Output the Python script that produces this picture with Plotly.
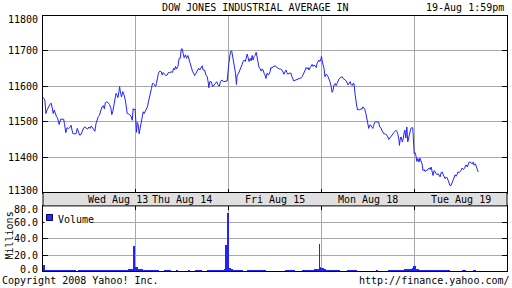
import plotly.graph_objects as go

# ---------------- data ----------------
day_labels = ["Wed Aug 13", "Thu Aug 14", "Fri Aug 15", "Mon Aug 18", "Tue Aug 19"]
session_minutes = 390  # 9:30 - 16:00

# price: minutes after the open of each session, index value
wed_min = [0,4,8,12,17,22,29,35,39,43,47,53,57,61,65,68,74,79,87,90,96,101,107,112,118,122,126,133,139,144,
           149,154,160,165,171,176,182,187,193,198,203,207,212,218,223,228,232,237,243,248,254,258,262,268,273,
           279,285,289,293,297,303,307,311,315,319,322,326,330,335,340,346,350,354,360,365,371,375,379,383,387]
wed_px = [11568,11566,11561,11523,11533,11542,11549,11552,11537,11523,11533,11520,11514,11511,11501,11492,11507,
          11507,11507,11495,11469,11483,11481,11483,11490,11476,11466,11466,11466,11481,11471,11462,11464,11476,
          11483,11485,11483,11479,11485,11481,11488,11483,11479,11473,11495,11509,11514,11518,11533,11542,11545,
          11536,11554,11556,11554,11549,11539,11520,11528,11547,11566,11580,11575,11568,11585,11599,11580,11570,
          11585,11577,11561,11547,11523,11522,11520,11514,11504,11537,11533,11536]

thu_min = [0,3,6,10,14,18,22,27,31,35,39,45,49,53,58,62,66,70,74,79,83,87,91,95,101,107,111,115,121,126,132,137,
           143,149,154,159,163,167,171,177,182,187,191,195,199,203,209,213,219,224,230,234,239,243,247,253,258,264,
           269,275,279,283,289,295,300,304,307,311,317,323,328,334,340,345,351,356,362,368,373,379,384]
thu_px = [11495,11470,11498,11492,11466,11481,11495,11518,11528,11523,11528,11537,11542,11556,11575,11589,11594,
          11608,11608,11604,11599,11608,11622,11637,11643,11641,11632,11639,11634,11630,11632,11639,11639,11641,
          11639,11651,11646,11656,11649,11656,11679,11679,11705,11706,11693,11681,11689,11679,11687,11674,11660,
          11646,11641,11637,11630,11637,11646,11651,11646,11653,11658,11646,11646,11632,11627,11613,11596,11613,
          11613,11599,11604,11608,11613,11605,11600,11613,11618,11613,11613,11615,11615]

fri_min = [1,4,8,13,17,21,25,29,33,36,40,45,49,53,57,61,65,70,74,78,82,86,91,95,99,103,107,111,116,120,124,128,
           132,137,141,145,149,153,157,162,166,170,174,178,182,187,191,195,199,203,208,213,219,224,228,233,237,241,
           245,249,254,258,262,266,270,274,279,283,288,294,299,305,309,313,318,322,326,330,334,338,343,347,351,355,
           359,364,368,372,376,380,383,387]
fri_px = [11665,11684,11698,11700,11684,11679,11660,11637,11605,11632,11634,11641,11646,11656,11662,11670,11674,
          11670,11684,11691,11681,11670,11679,11672,11687,11674,11684,11687,11696,11679,11662,11653,11651,11643,
          11649,11646,11637,11632,11622,11637,11632,11634,11641,11653,11651,11656,11656,11658,11656,11653,11651,
          11649,11649,11646,11639,11634,11641,11646,11639,11634,11637,11637,11637,11627,11621,11615,11617,11618,
          11618,11621,11622,11624,11627,11632,11639,11646,11653,11649,11653,11646,11653,11660,11662,11656,11660,
          11658,11653,11665,11670,11674,11670,11674]

mon_min = [0,3,7,11,15,20,24,28,32,36,41,45,49,53,58,62,66,70,74,79,83,87,91,95,100,104,108,112,116,121,125,129,
           133,137,142,145,149,153,157,161,166,170,174,178,182,187,191,195,199,203,208,212,216,220,224,229,233,237,
           241,245,250,254,258,262,266,271,275,279,283,288,292,296,300,304,309,313,317,321,326,328,331,335,340,344,
           348,351,355,359,363,368,372,376,380,384]
mon_px = [11684,11670,11660,11651,11627,11634,11632,11627,11622,11613,11599,11583,11589,11604,11608,11602,11608,
          11615,11621,11624,11626,11627,11622,11621,11618,11615,11608,11604,11608,11613,11605,11602,11608,11608,
          11575,11552,11542,11533,11535,11533,11537,11535,11542,11539,11535,11523,11509,11495,11481,11490,11490,
          11485,11481,11490,11498,11500,11500,11500,11498,11485,11483,11476,11471,11466,11466,11464,11462,11457,
          11450,11454,11457,11460,11464,11469,11473,11476,11473,11466,11448,11433,11450,11457,11443,11452,11471,
          11476,11454,11485,11443,11457,11466,11481,11483,11483]

tue_min = [0,3,7,11,16,20,24,28,33,37,41,45,50,54,58,62,67,71,75,79,84,88,92,96,101,105,109,113,118,122,126,130,
           135,139,143,146,150,155,159,163,167,172,176,180,184,189,193,197,201,206,210,214,218,223,227,231,235,240,
           244,248,252,257,261,265,269]
tue_px = [11410,11413,11405,11388,11396,11386,11397,11388,11381,11362,11365,11360,11362,11362,11365,11369,11365,
          11372,11358,11348,11362,11358,11356,11350,11353,11346,11344,11356,11358,11350,11344,11339,11344,11341,
          11334,11325,11320,11320,11325,11334,11341,11350,11346,11350,11358,11356,11360,11362,11369,11365,11367,
          11375,11378,11372,11381,11386,11386,11384,11381,11386,11377,11381,11372,11360,11358]

# volume (millions) in 10-minute buckets per session
wed_vol = [8.5,2.2,1.8,1.6,1.5,1.4,1.5,1.3,1.2,1.2,1.1,1.2,1.0,0.9,0.0,1.0,1.1,1.0,1.0,1.1,1.0,1.2,1.1,1.3,1.2,
           1.1,1.3,1.4,1.5,1.3,1.6,1.8,1.5,1.9,2.0,2.4,2.8,3.4,5.0]
thu_vol = [6.0,3.2,2.5,2.0,1.8,1.6,1.5,1.4,1.2,1.0,0.0,0.0,1.0,1.1,1.0,0.0,0.0,1.0,0.0,0.0,0.0,0.0,1.0,0.0,0.0,
           1.0,1.1,1.2,0.0,0.0,1.0,1.2,1.4,1.5,1.6,1.8,2.2,3.0,5.5]
fri_vol = [4.0,2.6,2.0,1.6,1.5,1.3,0.0,0.0,1.2,1.2,1.3,1.1,1.0,1.2,1.1,1.0,0.0,0.0,0.0,0.0,0.0,0.0,0.0,0.0,1.0,
           1.1,1.2,1.0,0.0,0.0,0.0,1.1,1.3,1.5,1.7,2.0,2.6,3.2,5.2]
mon_vol = [4.2,2.5,2.0,1.8,1.6,1.5,1.4,1.3,0.0,0.0,0.0,1.2,1.3,1.1,1.0,0.0,0.0,0.0,0.0,0.0,0.0,0.0,0.0,1.0,0.0,
           0.0,0.0,0.0,1.0,1.0,1.2,1.3,1.4,1.6,2.0,2.5,3.0,3.5,4.0]
tue_vol = [7.0,2.5,2.2,2.0,1.8,1.7,1.6,1.5,1.5,1.4,1.3,1.2,1.2,1.1,1.2,0.0,0.0,0.0,0.0,0.0,1.0,1.0,0.0,0.0,0.0,
           1.0,0.0]
# closing-print spikes: trading minutes since Wed open, millions
spike_t = [384, 771, 779, 1162, 1558]
spike_v = [31.0, 32.0, 71.0, 33.5, 7.0]

price_ticks = [11300, 11400, 11500, 11600, 11700, 11800]
vol_ticks = [0, 20, 40, 60, 80]
vol_tick_text = ["0.0", "20.0", "40.0", "60.0", "80.0"]

# ---------------- build ----------------
W, H = 512, 288
def px(x): return x / W
def py(y): return 1 - y / H

days_t = [wed_min, thu_min, fri_min, mon_min, tue_min]
days_p = [wed_px, thu_px, fri_px, mon_px, tue_px]
t_all, p_all = [], []
for i, (tt, pp) in enumerate(zip(days_t, days_p)):
    t_all += [session_minutes * i + m for m in tt]
    p_all += pp

vols = [wed_vol, thu_vol, fri_vol, mon_vol, tue_vol]
vt, vv = [], []
for i, v in enumerate(vols):
    for k, val in enumerate(v):
        vt.append(session_minutes * i + 10 * k + 5)
        vv.append(val)

BLUE = "#2222ff"
GRID = "#a8a8a8"
FONT = "DejaVu Sans Mono"

fig = go.Figure()
fig.add_trace(go.Scatter(x=t_all, y=p_all, mode="lines", line=dict(color=BLUE, width=1),
                         xaxis="x", yaxis="y", showlegend=False))
fig.add_trace(go.Bar(x=vt, y=vv, width=8, marker=dict(color=BLUE, line=dict(width=0)),
                     xaxis="x2", yaxis="y2", showlegend=False))
fig.add_trace(go.Bar(x=spike_t, y=spike_v, width=4, marker=dict(color=BLUE, line=dict(width=0)),
                     xaxis="x2", yaxis="y2", showlegend=False))

xdom = [px(43), px(507)]
boundaries = [session_minutes * i for i in range(1, 5)]
common_x = dict(domain=xdom, range=[0, session_minutes * 5], tickvals=boundaries, showgrid=True,
                gridcolor=GRID, gridwidth=1, ticks="inside", ticklen=4, tickcolor="black",
                showticklabels=False, showline=True, linecolor="black", linewidth=1, zeroline=False)
fig.update_layout(
    width=W, height=H, margin=dict(l=0, r=0, t=0, b=0),
    paper_bgcolor="white", plot_bgcolor="white", barmode="overlay", bargap=0,
    font=dict(family=FONT, size=10, color="black"),
    xaxis=dict(**common_x, anchor="y", side="bottom", mirror=True),
    yaxis=dict(domain=[py(192.5), py(15.5)], range=[price_ticks[0], price_ticks[-1]], tickvals=price_ticks,
               showgrid=True, gridcolor=GRID, gridwidth=1, ticks="inside", ticklen=5, tickcolor="black",
               showticklabels=False, showline=True, linecolor="black", linewidth=1, mirror="ticks",
               zeroline=False, anchor="x"),
    xaxis2=dict(**common_x, anchor="y2", side="top", mirror=True, matches="x"),
    yaxis2=dict(domain=[py(271.4), py(205.9)], range=[vol_ticks[0], vol_ticks[-1]], tickvals=vol_ticks,
                showgrid=True, gridcolor=GRID, gridwidth=1, ticks="inside", ticklen=5, tickcolor="black",
                showticklabels=False, showline=True, linecolor="black", linewidth=1, mirror="ticks",
                zeroline=False, anchor="x2"),
)

shapes = []
# date band between the panels
shapes.append(dict(type="rect", xref="paper", yref="paper", x0=px(43), x1=px(507), y0=py(205.9), y1=py(192.5),
                   fillcolor="#e0e0e0", line=dict(color="black", width=1), layer="above"))
# legend box
shapes.append(dict(type="rect", xref="paper", yref="paper", x0=px(44.5), x1=px(92.5), y0=py(224), y1=py(207),
                   fillcolor="white", line=dict(width=0), layer="above"))
shapes.append(dict(type="rect", xref="paper", yref="paper", x0=px(46.5), x1=px(52.5), y0=py(220.5), y1=py(214.5),
                   fillcolor="#2233ee", line=dict(color="#000066", width=1), layer="above"))
fig.update_layout(shapes=shapes)

ann = []
def text(x, y, s, xa="center", **kw):
    ann.append(dict(x=px(x), y=py(y), xref="paper", yref="paper", text=s, showarrow=False,
                    xanchor=xa, yanchor="middle", font=dict(family=FONT, size=10, color="black"), **kw))

text(255, 7.5, "DOW JONES INDUSTRIAL AVERAGE IN")
text(505.5, 7.5, "19-Aug 1:59pm", xa="right")
text(0, 280.5, "Copyright 2008 Yahoo! Inc.", xa="left")
text(511.5, 280.5, "http://finance.yahoo.com/", xa="right")
text(56, 219.5, "Volume", xa="left")
text(8.5, 236, "Millions", textangle=-90)

# y tick labels
for i, v in enumerate(price_ticks):
    shift = -4.5 if i == len(price_ticks) - 1 else (2.5 if i == 0 else 0)
    ann.append(dict(x=px(40), y=v, xref="paper", yref="y", text=str(v), showarrow=False, xanchor="right",
                    yanchor="middle", yshift=shift, font=dict(family=FONT, size=10, color="black")))
for i, (v, s) in enumerate(zip(vol_ticks, vol_tick_text)):
    shift = -3.5 if i == len(vol_ticks) - 1 else (2 if i == 0 else 0)
    ann.append(dict(x=px(40), y=v, xref="paper", yref="y2", text=s, showarrow=False, xanchor="right",
                    yanchor="middle", yshift=shift, font=dict(family=FONT, size=10, color="black")))

# day labels in the band
for i, lab in enumerate(day_labels):
    xc = session_minutes * i + session_minutes / 2 + (120 if i == 0 else 0)
    ann.append(dict(x=xc, y=py(199), xref="x", yref="paper", text=lab, showarrow=False, xanchor="center",
                    yanchor="middle", font=dict(family=FONT, size=10, color="black")))

fig.update_layout(annotations=ann)
fig.write_html("out.html")
